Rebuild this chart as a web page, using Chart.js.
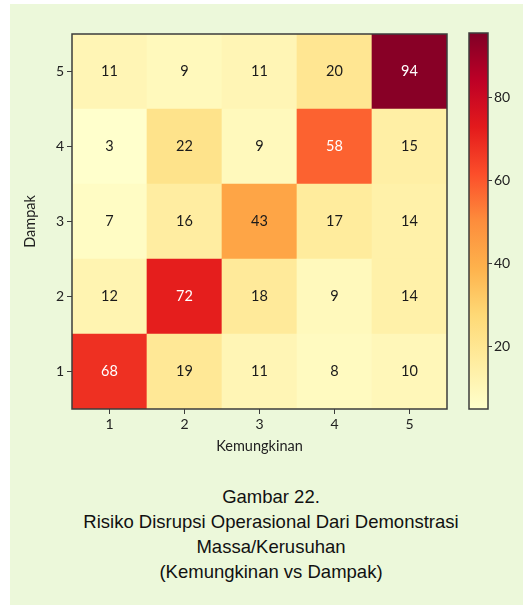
<!DOCTYPE html>
<html>
<head>
<meta charset="utf-8">
<script src="https://cdn.jsdelivr.net/npm/chart.js@4"></script>
<style>
  body { margin: 0; background: #ffffff; }
  #panel { position: absolute; left: 10px; top: 4px; width: 513px; height: 601px; background: #ecf8da; }
  #heat { position: absolute; left: 0; top: 0; }
  #bar { position: absolute; left: 460px; top: 0; }
  #caption {
    position: absolute; left: 22px; top: 484px; width: 498px;
    text-align: center; font-family: "Liberation Sans", Arial, sans-serif;
    font-size: 18.5px; line-height: 25px; color: #111;
  }
</style>
</head>
<body>
<div id="panel"></div>
<canvas id="heat" width="523" height="470"></canvas>
<canvas id="bar" width="63" height="440"></canvas>
<div id="caption">Gambar 22.<br>Risiko Disrupsi Operasional Dari Demonstrasi<br>Massa/Kerusuhan<br>(Kemungkinan vs Dampak)</div>
<script>
// heatmap data: one row per Dampak level (1 = bottom)
const kemungkinan = ["1", "2", "3", "4", "5"];
const dampak = ["1", "2", "3", "4", "5"];
const dampak1 = [68, 19, 11, 8, 10];
const dampak2 = [12, 72, 18, 9, 14];
const dampak3 = [7, 16, 43, 17, 14];
const dampak4 = [3, 22, 9, 58, 15];
const dampak5 = [11, 9, 11, 20, 94];
const rows = [dampak1, dampak2, dampak3, dampak4, dampak5];

// colorbar range and ticks
const cbMin = 5;
const cbMax = 95.4;
const cbTicks = [20, 40, 60, 80];

// YlOrRd
const ylOrRd = ["#ffffcc", "#ffeda0", "#fed976", "#feb24c", "#fd8d3c", "#fc4e2a", "#e31a1c", "#bd0026", "#800026"];

function hexRgb(h) {
  return [parseInt(h.slice(1, 3), 16), parseInt(h.slice(3, 5), 16), parseInt(h.slice(5, 7), 16)];
}

function colorFor(v) {
  let t = (v - cbMin) / (cbMax - cbMin);
  t = Math.max(0, Math.min(1, t));
  const p = t * (ylOrRd.length - 1);
  const i = Math.min(Math.floor(p), ylOrRd.length - 2);
  const f = p - i;
  const a = hexRgb(ylOrRd[i]), b = hexRgb(ylOrRd[i + 1]);
  const c = a.map((x, k) => Math.round(x + (b[k] - x) * f));
  return `rgb(${c[0]},${c[1]},${c[2]})`;
}

const axisColor = "#3c3c3c";
const tickFont = { family: "Lato", size: 14 };
const titleFont = { family: "Lato", size: 14.5 };

const datasets = rows.map((vals, r) => ({
  label: dampak[r],
  data: vals.map(() => 1),
  values: vals,
  backgroundColor: vals.map(colorFor),
  borderWidth: 0,
  barPercentage: 1,
  categoryPercentage: 1
}));

const cellLabels = {
  id: "cellLabels",
  afterDatasetsDraw(chart) {
    const ctx = chart.ctx;
    ctx.save();
    ctx.font = "14.5px Lato";
    ctx.textAlign = "center";
    ctx.textBaseline = "middle";
    chart.data.datasets.forEach((ds, di) => {
      chart.getDatasetMeta(di).data.forEach((el, i) => {
        const v = ds.values[i];
        ctx.fillStyle = v > 50 ? "#ffffff" : "#1a1a1a";
        ctx.fillText(String(v), el.x, (el.y + el.base) / 2);
      });
    });
    ctx.restore();
  }
};

const frame = {
  id: "frame",
  afterDraw(chart) {
    const a = chart.chartArea;
    const ctx = chart.ctx;
    ctx.save();
    ctx.strokeStyle = axisColor;
    ctx.lineWidth = 1.5;
    ctx.strokeRect(a.left, a.top, a.right - a.left, a.bottom - a.top);
    ctx.restore();
  }
};

new Chart(document.getElementById("heat"), {
  type: "bar",
  data: { labels: kemungkinan, datasets },
  options: {
    responsive: false,
    animation: false,
    layout: { padding: { left: 18, top: 34, right: 76, bottom: 11 } },
    plugins: { legend: { display: false }, tooltip: { enabled: false } },
    scales: {
      x: {
        stacked: true,
        afterFit: s => { s.height = 50; },
        grid: { offset: false, drawOnChartArea: false, tickLength: 5, color: axisColor },
        border: { display: false },
        ticks: { font: tickFont, color: "#222", padding: 2 },
        title: { display: true, text: "Kemungkinan", font: titleFont, color: "#222" }
      },
      y: {
        stacked: true,
        min: 0,
        max: 5,
        afterFit: s => { s.width = 54; },
        afterBuildTicks: s => { s.ticks = dampak.map((d, i) => ({ value: i + 0.5 })); },
        grid: { drawOnChartArea: false, tickLength: 5, color: axisColor },
        border: { display: false },
        ticks: { font: tickFont, color: "#222", padding: 3, callback: v => dampak[Math.round(v - 0.5)] },
        title: { display: true, text: "Dampak", font: titleFont, color: "#222" }
      }
    }
  },
  plugins: [cellLabels, frame]
});

new Chart(document.getElementById("bar"), {
  type: "bar",
  data: {
    labels: [""],
    datasets: [{
      data: [[cbMin, cbMax]],
      borderWidth: 0,
      barPercentage: 1,
      categoryPercentage: 1,
      backgroundColor: c => {
        const area = c.chart.chartArea;
        if (!area) return ylOrRd[0];
        const y = c.chart.scales.y;
        const g = c.chart.ctx.createLinearGradient(0, y.getPixelForValue(cbMin), 0, y.getPixelForValue(cbMax));
        ylOrRd.forEach((col, i) => g.addColorStop(i / (ylOrRd.length - 1), col));
        return g;
      }
    }]
  },
  options: {
    responsive: false,
    animation: false,
    layout: { padding: { left: 9, top: 33, right: 0, bottom: 31 } },
    plugins: { legend: { display: false }, tooltip: { enabled: false } },
    scales: {
      x: { display: false },
      y: {
        position: "right",
        min: cbMin,
        max: cbMax,
        afterFit: s => { s.width = 35; },
        afterBuildTicks: s => { s.ticks = cbTicks.map(v => ({ value: v })); },
        grid: { drawOnChartArea: false, tickLength: 4, color: axisColor },
        border: { display: false },
        ticks: { font: tickFont, color: "#222", padding: 2 }
      }
    }
  },
  plugins: [frame]
});
</script>
</body>
</html>
